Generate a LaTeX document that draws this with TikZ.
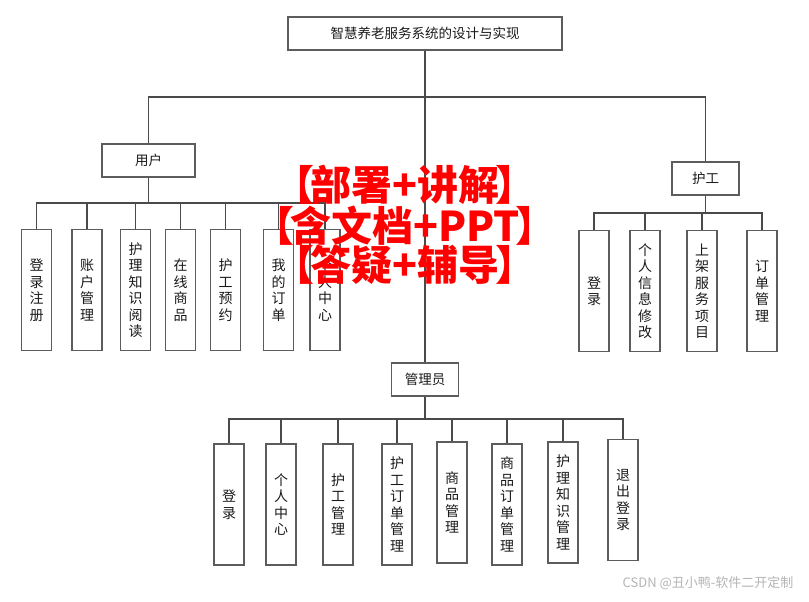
\documentclass[tikz,border=0pt]{standalone}
\usepackage{fontspec}
\newfontfamily\cjk{Noto Sans CJK SC}
\definecolor{linegray}{HTML}{4A4A4A}
\definecolor{boxgray}{HTML}{5C5C5C}
\definecolor{wmred}{HTML}{FF0000}
\definecolor{marktext}{HTML}{B4B4B4}
\newcommand{\lbr}{【\kern-.1em}
\newcommand{\rbr}{\kern-.1em】}

\begin{document}
\begin{tikzpicture}[
    x=1pt, y=-1pt,
    box/.style={draw=boxgray, line width=1.2pt, inner sep=0pt, text=black!90},
    role/.style={box, minimum height=33pt, font=\cjk\fontsize{13.5}{16}\selectfont},
    leaf/.style={box, minimum width=30pt, minimum height=121pt, align=center,
        font=\cjk\fontsize{14}{16.5}\selectfont},
    link/.style={draw=linegray, line width=1.2pt},
    wm/.style={text=wmred, align=center, inner sep=0pt,
        font=\cjk\bfseries\fontsize{41}{39.5}\selectfont},
]
\useasboundingbox (0, 0) rectangle (809, 602);

% Roles
\node[role, minimum width=274pt] (root) at (425, 33.5) {智慧养老服务系统的设计与实现};
\node[role, minimum width=93pt] (user) at (148.5, 160.5) {用户};
\node[role, minimum width=67pt] (nurse) at (705.5, 178.5) {护工};
\node[role, minimum width=67pt] (admin) at (425, 379.5) {管理员};

% Bus lines
\coordinate (topbus) at (0, 97);
\coordinate (userbus) at (0, 203);
\coordinate (nursebus) at (0, 213);
\coordinate (adminbus) at (0, 419);

\draw[link] (root.south) -- (admin.north);
\draw[link] (user.north) -- (user.north |- topbus) -| (nurse.north);

% User -- functions
\foreach \n/\x/\t in {
    u1/36.5/{登\\录\\注\\册}, u2/87/{账\\户\\管\\理},
    u3/135.5/{护\\理\\知\\识\\阅\\读}, u4/180.5/{在\\线\\商\\品},
    u5/225.5/{护\\工\\预\\约}, u6/278.5/{我\\的\\订\\单},
    u7/325/{个\\人\\中\\心}} {
    \node[leaf] (\n) at (\x, 290) {\t};
    \draw[link] (user.south) -- (user.south |- userbus) -| (\n.north);
}

% Nurse -- functions
\foreach \n/\x/\t in {
    n1/594/{登\\录}, n2/645/{个\\人\\信\\息\\修\\改},
    n3/702/{上\\架\\服\\务\\项\\目}, n4/762/{订\\单\\管\\理}} {
    \node[leaf] (\n) at (\x, 291) {\t};
    \draw[link] (nurse.south) -- (nurse.south |- nursebus) -| (\n.north);
}

% Admin -- functions
\foreach \n/\x/\y/\t in {
    a1/229/504.5/{登\\录}, a2/281/504.5/{个\\人\\中\\心},
    a3/338/504.5/{护\\工\\管\\理}, a4/397/504.5/{护\\工\\订\\单\\管\\理},
    a5/452/502.5/{商\\品\\管\\理}, a6/507/504.5/{商\\品\\订\\单\\管\\理},
    a7/563/502.5/{护\\理\\知\\识\\管\\理}, a8/623/500/{退\\出\\登\\录}} {
    \node[leaf] (\n) at (\x, \y) {\t};
    \draw[link] (admin.south) -- (admin.south |- adminbus) -| (\n.north);
}

% Watermarks
\node[wm] (promo) at (405, 225)
    {\lbr 部署+讲解\rbr\\\lbr 含文档+PPT\rbr\\\lbr 答疑+辅导\rbr};
\node[anchor=east, text=marktext, font=\cjk\fontsize{13}{15}\selectfont]
    (csdn) at (797, 583) {CSDN @丑小鸭-软件二开定制};

\end{tikzpicture}
\end{document}
